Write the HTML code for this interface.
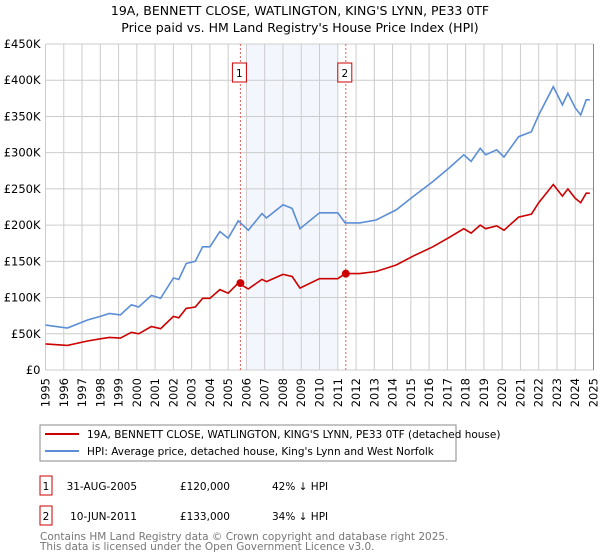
<!DOCTYPE html>
<html><head><meta charset="utf-8"><style>
body{margin:0;background:#fff;font-family:"DejaVu Sans","Liberation Sans",sans-serif}
svg{display:block}
</style></head><body>
<svg id="c" width="600" height="560" xmlns="http://www.w3.org/2000/svg" font-family="DejaVu Sans, Liberation Sans, sans-serif">
<text x="300" y="15" text-anchor="middle" font-size="12.5">19A, BENNETT CLOSE, WATLINGTON, KING'S LYNN, PE33 0TF</text>
<text x="300" y="32" text-anchor="middle" font-size="12.5">Price paid vs. HM Land Registry's House Price Index (HPI)</text>
<g id="plot"></g>
<rect x="40" y="425" width="416" height="36" fill="#fff" stroke="#888"/>
<line x1="45" y1="434" x2="79" y2="434" stroke="#cc0000" stroke-width="2"/>
<text x="87" y="438" font-size="10.5">19A, BENNETT CLOSE, WATLINGTON, KING'S LYNN, PE33 0TF (detached house)</text>
<line x1="45" y1="451" x2="79" y2="451" stroke="#5b8ed6" stroke-width="2"/>
<text x="87" y="455" font-size="10.5">HPI: Average price, detached house, King's Lynn and West Norfolk</text>
<g font-size="10.5">
<rect x="40" y="476" width="12" height="19" fill="#fff" stroke="#cc0000"/>
<text x="46" y="490" text-anchor="middle">1</text>
<text x="137" y="490" text-anchor="end">31-AUG-2005</text>
<text x="230" y="490" text-anchor="end">£120,000</text>
<text x="272" y="490">42% ↓ HPI</text>
<rect x="40" y="506" width="12" height="19" fill="#fff" stroke="#cc0000"/>
<text x="46" y="520" text-anchor="middle">2</text>
<text x="137" y="520" text-anchor="end">10-JUN-2011</text>
<text x="230" y="520" text-anchor="end">£133,000</text>
<text x="272" y="520">34% ↓ HPI</text>
</g>
<text x="40" y="540" font-size="10.5" fill="#777">Contains HM Land Registry data © Crown copyright and database right 2025.</text>
<text x="40" y="550" font-size="10.5" fill="#777">This data is licensed under the Open Government Licence v3.0.</text>
</svg>
<script>
const yTicks=[0,50,100,150,200,250,300,350,400,450];
const yTickLabels=["£0","£50K","£100K","£150K","£200K","£250K","£300K","£350K","£400K","£450K"];
const xYears=[1995,1996,1997,1998,1999,2000,2001,2002,2003,2004,2005,2006,2007,2008,2009,2010,2011,2012,2013,2014,2015,2016,2017,2018,2019,2020,2021,2022,2023,2024,2025];
const hpiDates=[1995.0,1996.2,1997.3,1998.0,1998.5,1999.1,1999.7,2000.1,2000.8,2001.3,2002.0,2002.3,2002.7,2003.2,2003.6,2004.0,2004.55,2005.0,2005.55,2006.1,2006.85,2007.1,2008.0,2008.5,2008.93,2010.0,2011.0,2011.4,2012.2,2013.1,2014.2,2015.1,2016.2,2017.1,2017.9,2018.3,2018.8,2019.1,2019.7,2020.1,2020.9,2021.6,2022.0,2022.8,2023.3,2023.6,2024.0,2024.3,2024.6,2024.8];
const hpiValues=[62,58,69,74,78,76,90,87,103,99,127,125,147,150,170,170,191,182,206,193,216,210,228,223,195,217,217,203,203,207,221,239,260,279,297,288,306,297,304,294,322,329,352,391,366,382,362,352,373,373];
const propValues=[36,34,40,43,45,44,52,50,60,57,74,72,85,87,99,99,111,106,120,112,125,122,132,129,113,126,126,133,133,136,145,157,170,183,195,189,200,195,199,193,211,215,231,256,240,250,237,231,244,244];
const saleDates=[2005.67,2011.44];
const saleValues=[120,133];
const saleLabels=["1","2"];
const shadeRange=[2006.0,2011.0];

const NS="http://www.w3.org/2000/svg";
const L=45.5,R=593.5,T=44,B=370;
const xs=y=>L+(y-1995)/(2025-1995)*(R-L);
const ys=v=>B-v/450*(B-T);
const g=document.getElementById('plot');
function mk(t,a){const e=document.createElementNS(NS,t);for(const k in a)e.setAttribute(k,a[k]);g.appendChild(e);return e;}
let sh=mk('rect',{x:xs(shadeRange[0]),y:T,width:xs(shadeRange[1])-xs(shadeRange[0]),height:B-T,fill:'#eef3fc',opacity:0.7});


xYears.forEach(yr=>{
  let l=mk('line',{x1:xs(yr),x2:xs(yr),y1:T,y2:B,stroke:'#cccccc','stroke-width':1});
  
  
  let t=mk('text',{x:0,y:0,'font-size':11.5,'text-anchor':'end',transform:`translate(${xs(yr)+4},${B+8}) rotate(-90)`});
  t.textContent=yr;
  
  
});
yTicks.forEach((v,i)=>{
  let l=mk('line',{x1:L,x2:R,y1:ys(v),y2:ys(v),stroke:'#cccccc','stroke-width':1});
  
  
  let t=mk('text',{x:L-5,y:ys(v)+4,'font-size':11.5,'text-anchor':'end'});
  t.textContent=yTickLabels[i];
  
  
});
let ax=mk('line',{x1:R,x2:R,y1:T,y2:B,stroke:'#888'});


saleDates.forEach((d,i)=>{
  let l=mk('line',{x1:xs(d),x2:xs(d),y1:T,y2:B,stroke:'#e06060','stroke-dasharray':'2,2','stroke-width':1});
  
  
  let r=mk('rect',{x:xs(d)-8,y:63,width:14,height:19,fill:'#fff',stroke:'#cc0000'});
  
  
  let t=mk('text',{x:xs(d)-1,y:77,'font-size':10.5,'text-anchor':'middle'});
  t.textContent=saleLabels[i];
  
  
});
function pts(vals){return hpiDates.map((d,i)=>xs(d).toFixed(1)+','+ys(vals[i]).toFixed(1)).join(' ');}
let hp=mk('polyline',{points:pts(hpiValues),fill:'none',stroke:'#5b8ed6','stroke-width':1.6});


let pp=mk('polyline',{points:pts(propValues),fill:'none',stroke:'#cc0000','stroke-width':1.6});


saleDates.forEach((d,i)=>{
  let c=mk('circle',{cx:xs(d),cy:ys(saleValues[i]),r:4,fill:'#cc0000'});
  
  
});
</script>
</body></html>
